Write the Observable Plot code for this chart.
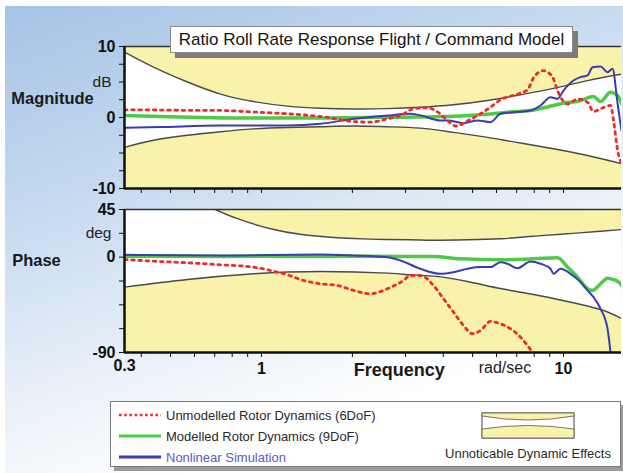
<!DOCTYPE html>
<html><head><meta charset="utf-8">
<script src="https://cdn.jsdelivr.net/npm/d3@7"></script>
<script src="https://cdn.jsdelivr.net/npm/@observablehq/plot@0.6"></script>
<style>
body{margin:0;background:#fff;}
#wrap{position:relative;width:623px;height:473px;overflow:hidden;font-family:"Liberation Sans",Arial,sans-serif;}
#bg{position:absolute;left:5px;top:6px;right:0;bottom:0;background:linear-gradient(160deg,#a6c2e5 0%,#c4d9ef 30%,#e9f0f8 58%,#ffffff 78%);}
.panel{position:absolute;left:0;}
#title{position:absolute;left:170px;top:26px;width:401px;height:25px;background:#fff;border:1px solid #8a8a8a;box-shadow:5px 5px 0 #7c7c7c;font-size:17px;line-height:25px;text-align:center;color:#151515;white-space:nowrap;}
#legend{position:absolute;left:110px;top:401px;width:509px;height:64px;background:#fff;border:1px solid #7a7a7a;box-shadow:4px 4px 0 #9c9c9c;}
</style></head>
<body>
<div id="wrap">
  <div id="bg"></div>
  <div id="top" class="panel" style="top:0"></div>
  <div id="bot" class="panel" style="top:200px"></div>
  <div id="title"></div>
  <div id="legend"></div>
</div>
<script>
// ---------- text ----------
const titleText = "Ratio Roll Rate Response Flight / Command Model";
const seriesNames = ["Unmodelled Rotor Dynamics (6DoF)", "Modelled Rotor Dynamics (9DoF)", "Nonlinear Simulation"];
const envelopeName = "Unnoticable Dynamic Effects";

// ---------- axes ----------
const xDomain = [0.352, 15.56];                 // frequency range shown (rad/sec)
const xTicks = [0.4,0.5,0.6,0.7,0.8,0.9,1,2,3,4,5,6,7,8,9,10];
const xTickLabels = [1, 10];
const xLeftLabel = "0.3";
const magDomain = [-10, 10];
const magTicks = [-10,-7.5,-5,-2.5,0,2.5,5,7.5,10];
const magTickLabels = [-10, 0, 10];
const phaseDomain = [-90, 45];
const phaseTicks = [-90,-67.5,-45,-22.5,0,22.5,45];
const phaseTickLabels = [-90, 0, 45];

// ---------- magnitude (dB) : [frequency, value] ----------
const magUpper = [[0.352,9.2],[0.439,7.1],[0.569,5.0],[0.732,3.3],[0.941,2.25],[1.219,1.6],[1.568,1.3],[2.017,1.2],[2.614,1.25],[3.362,1.45],[4.323,1.8],[5.603,2.4],[7.205,3.2],[9.267,4.1],[12.01,5.2],[15.56,6.1]];
const magLower = [[0.352,-4.2],[0.439,-3.2],[0.569,-2.5],[0.732,-2.0],[0.941,-1.6],[1.219,-1.4],[1.568,-1.3],[2.017,-1.2],[2.614,-1.3],[3.362,-1.5],[4.323,-2.1],[5.603,-2.8],[7.205,-3.6],[9.267,-4.4],[12.01,-5.35],[15.56,-6.5]];
const magGreen = [[0.352,0.28],[0.463,0.14],[0.628,0.0],[0.852,-0.07],[1.156,-0.07],[1.568,-0.07],[2.127,0.0],[2.886,0.04],[3.362,0.07],[4.56,0.21],[5.733,0.49],[6.675,0.77],[7.776,0.99],[9.267,1.69],[10.31,2.15],[11.13,2.25],[12.01,2.77],[12.57,2.96],[13.26,2.25],[14.31,3.56],[15.10,3.1],[15.56,1.97]];
const magBlue = [[0.352,-1.45],[0.463,-1.34],[0.732,-1.13],[1.219,-1.13],[1.568,-0.89],[2.017,-0.18],[2.614,0.28],[3.114,0.52],[3.362,0.3],[3.914,-0.42],[4.129,-0.42],[4.666,-0.8],[5.19,-0.42],[5.733,-0.66],[6.185,0.52],[6.83,0.75],[7.776,0.99],[8.39,1.69],[9.057,2.86],[9.552,2.63],[10.0,3.8],[10.79,5.21],[11.39,5.68],[12.01,5.92],[12.48,7.08],[13.26,7.18],[13.99,6.38],[14.53,6.86],[15.10,1.97],[15.56,-1.9]];
const magRed = [[0.352,1.08],[0.439,1.06],[0.569,1.01],[0.732,0.99],[0.941,0.77],[1.219,0.52],[1.568,0.14],[2.017,-0.56],[2.296,-0.66],[2.614,-0.18],[2.886,0.28],[3.186,1.23],[3.545,1.37],[3.826,0.8],[4.129,-0.42],[4.4,-1.2],[4.81,-0.5],[5.31,0.52],[5.733,1.45],[6.185,2.5],[7.042,3.3],[7.6,3.9],[7.958,5.6],[8.585,6.6],[9.2,5.7],[9.552,3.8],[10.31,1.9],[11.13,2.6],[12.01,2.15],[12.57,0.85],[13.26,1.23],[14.31,1.7],[14.64,-0.4],[15.10,-4.6],[15.56,-6.5]];

// ---------- phase (deg) : [frequency, value] ----------
const phaseUpper = [[0.704,45],[0.833,36.3],[1.071,26.8],[1.377,21.1],[1.785,18.3],[2.296,17.0],[3.114,16.4],[3.711,16.0],[4.81,16.4],[6.185,17.4],[7.958,19.8],[10.31,22.1],[13.26,24.5],[15.56,26.0]];
const phaseLower = [[0.352,-28.3],[0.569,-21.1],[0.941,-15.7],[1.568,-13.5],[2.614,-15.1],[3.114,-16.8],[3.711,-17.9],[4.81,-23.0],[6.185,-29.6],[7.958,-35.2],[10.31,-41.8],[13.26,-49.4],[15.56,-57.9]];
const phaseGreen = [[0.352,0.9],[0.732,0.7],[1.568,0.9],[3.114,0.7],[3.711,0.7],[4.56,-1.5],[6.185,-2.5],[7.958,-1.5],[9.552,-0.6],[10.31,-9.4],[11.13,-18.9],[12.01,-29.8],[12.48,-31.4],[13.26,-25.1],[13.99,-19.8],[14.64,-21.1],[15.44,-25.1],[15.56,-26.7]];
const phaseBlue = [[0.352,2.3],[0.732,1.6],[1.568,2.5],[2.017,1.6],[2.614,0],[2.886,-3.1],[3.362,-11.0],[3.914,-15.7],[4.323,-14.2],[4.81,-11.0],[5.31,-9.4],[5.733,-9.4],[6.185,-4.7],[6.524,-6.2],[7.042,-10.4],[7.776,-4.1],[8.39,-6.2],[9.057,-11.0],[9.267,-15.7],[9.774,-11.0],[10.55,-15.7],[11.39,-23.6],[12.01,-31.4],[12.57,-37.8],[13.26,-48.7],[13.99,-67.6],[14.31,-90]];
const phaseRed = [[0.352,-2.2],[0.439,-3.8],[0.569,-5.3],[0.732,-7.2],[0.941,-9.4],[1.071,-12.6],[1.219,-16.6],[1.377,-22.0],[1.568,-25.1],[1.785,-26.7],[2.017,-31.4],[2.296,-34.6],[2.614,-29.8],[2.953,-22.0],[3.114,-17.3],[3.362,-17.3],[3.711,-26.7],[4.005,-39.3],[4.323,-51.9],[4.666,-64.5],[4.997,-72.3],[5.31,-69.2],[5.733,-60.7],[6.185,-62.9],[6.675,-67.6],[7.205,-75.5],[7.6,-83.4],[7.897,-90]];

// ---------- styles ----------
const YELLOW = "#f8f2aa", ENV = "#4a4a48", RED = "#ee2a2a", GREEN = "#4fca48", BLUE = "#3b3bb2";
const FONT = "'Liberation Sans', Arial, sans-serif";

function seriesMarks(red, green, blue) {
  return [
    Plot.line(green, {x: d => d[0], y: d => d[1], stroke: GREEN, strokeWidth: 3.5, curve: "monotone-x", clip: true}),
    Plot.line(blue, {x: d => d[0], y: d => d[1], stroke: BLUE, strokeWidth: 2, curve: "monotone-x", clip: true}),
    Plot.line(red, {x: d => d[0], y: d => d[1], stroke: RED, strokeWidth: 2.8, strokeDasharray: "2.6 4.6", curve: "monotone-x", clip: true})
  ];
}

function panel({height, marginTop, marginBottom, domain, ticks, tickLabels, upper, lower, red, green, blue, unit, unitY, name, nameY, nameDx, showX}) {
  return Plot.plot({
    width: 623, height, marginLeft: 124, marginRight: 2, marginTop, marginBottom,
    style: {background: "transparent", overflow: "visible", font: `bold 16px ${FONT}`, color: "#111"},
    x: {type: "log", domain: xDomain, ticks: xTicks, tickSize: 5, tickPadding: 5, label: null,
        tickFormat: d => showX && xTickLabels.includes(d) ? String(d) : ""},
    y: {domain, ticks, tickSize: 5, tickPadding: 4, label: null,
        tickFormat: d => tickLabels.includes(d) ? String(d) : ""},
    marks: [
      Plot.frame({fill: "white"}),
      Plot.areaY(upper, {x: d => d[0], y1: d => d[1], y2: () => domain[1], fill: YELLOW, curve: "natural", clip: true}),
      Plot.areaY(lower, {x: d => d[0], y1: () => domain[0], y2: d => d[1], fill: YELLOW, curve: "natural", clip: true}),
      Plot.line(upper, {x: d => d[0], y: d => d[1], stroke: ENV, strokeWidth: 1.4, curve: "natural", clip: true}),
      Plot.line(lower, {x: d => d[0], y: d => d[1], stroke: ENV, strokeWidth: 1.4, curve: "natural", clip: true}),
      ...seriesMarks(red, green, blue),
      Plot.ruleY([domain[1]], {stroke: "#333", strokeWidth: 1.3}),
      Plot.ruleY([domain[0]], {stroke: "#111", strokeWidth: 2.5}),
      Plot.ruleX([xDomain[0]], {stroke: "#111", strokeWidth: 2.5}),
      Plot.text([unit], {y: () => unitY, frameAnchor: "left", dx: -13, textAnchor: "end", fontWeight: "normal", fontSize: 15.5, fill: "#222"}),
      Plot.text([name], {y: () => nameY, frameAnchor: "left", dx: nameDx, textAnchor: "middle", fontWeight: "bold", fontSize: 16.5, fill: "#1a1a1a"}),
      ...(showX ? [
        Plot.text([xLeftLabel], {x: () => xDomain[0], frameAnchor: "bottom", dy: 18, fontWeight: "bold", fontSize: 16, fill: "#111"}),
        Plot.text(["Frequency"], {x: () => 2.86, frameAnchor: "bottom", dy: 23, fontWeight: "bold", fontSize: 18, fill: "#1a1a1a"}),
        Plot.text(["rad/sec"], {x: () => 6.4, frameAnchor: "bottom", dy: 20, fontWeight: "normal", fontSize: 16, fill: "#222"})
      ] : [])
    ]
  });
}

document.getElementById("top").append(panel({
  height: 200, marginTop: 46, marginBottom: 12, domain: magDomain, ticks: magTicks, tickLabels: magTickLabels,
  upper: magUpper, lower: magLower, red: magRed, green: magGreen, blue: magBlue,
  unit: "dB", unitY: 5, name: "Magnitude", nameY: 2.6, nameDx: -72, showX: false
}));
document.getElementById("bot").append(panel({
  height: 190, marginTop: 9, marginBottom: 38, domain: phaseDomain, ticks: phaseTicks, tickLabels: phaseTickLabels,
  upper: phaseUpper, lower: phaseLower, red: phaseRed, green: phaseGreen, blue: phaseBlue,
  unit: "deg", unitY: 22.5, name: "Phase", nameY: -3, nameDx: -88, showX: true
}));

document.getElementById("title").textContent = titleText;

// ---------- legend ----------
const ns = "http://www.w3.org/2000/svg";
const lg = document.createElementNS(ns, "svg");
lg.setAttribute("width", 509); lg.setAttribute("height", 64);
lg.style.display = "block";
const rows = [
  {name: seriesNames[0], stroke: RED, w: 2.6, dash: "2.6 2.6", y: 13, fill: "#2a2a2a"},
  {name: seriesNames[1], stroke: GREEN, w: 3, dash: null, y: 34, fill: "#2a2a2a"},
  {name: seriesNames[2], stroke: BLUE, w: 3, dash: null, y: 55, fill: "#5a5ac8"}
];
let html = "";
for (const r of rows) {
  html += `<line x1="8" x2="50" y1="${r.y}" y2="${r.y}" stroke="${r.stroke}" stroke-width="${r.w}" ${r.dash ? `stroke-dasharray="${r.dash}"` : ""}/>`;
  html += `<text x="55" y="${r.y + 4.5}" font-family="${FONT.replace(/'/g, "")}" font-size="13" fill="${r.fill}">${r.name}</text>`;
}
// envelope icon
const ix = 371, iy = 11, iw = 92, ih = 25;
html += `<rect x="${ix}" y="${iy}" width="${iw}" height="${ih}" fill="white" stroke="#444" stroke-width="1"/>`;
html += `<path d="M${ix},${iy} H${ix+iw} V${iy+3} Q${ix+iw/2},${iy+11} ${ix},${iy+3} Z" fill="${YELLOW}" stroke="#555" stroke-width="0.8"/>`;
html += `<path d="M${ix},${iy+ih} H${ix+iw} V${iy+16} Q${ix+iw/2},${iy+9} ${ix},${iy+16} Z" fill="${YELLOW}" stroke="#555" stroke-width="0.8"/>`;
html += `<text x="${ix+iw/2}" y="${iy+45}" text-anchor="middle" font-family="${FONT.replace(/'/g, "")}" font-size="13" fill="#2a2a2a">${envelopeName}</text>`;
lg.innerHTML = html;
document.getElementById("legend").append(lg);
</script>
</body></html>
